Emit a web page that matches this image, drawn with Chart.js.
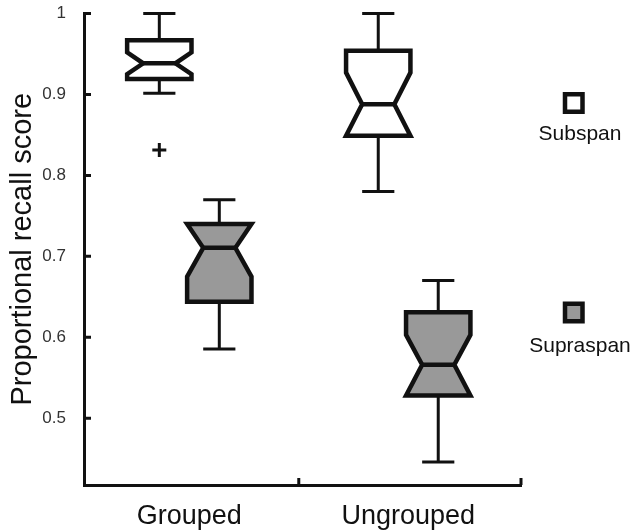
<!DOCTYPE html>
<html>
<head>
<meta charset="utf-8">
<script src="https://cdn.jsdelivr.net/npm/chart.js@4.4.0/dist/chart.umd.min.js"></script>
<style>
  body { margin: 0; background: #fff; }
  canvas { display: block; }
</style>
</head>
<body>
<canvas id="myChart" width="634" height="530"></canvas>
<script>
// categories along the x axis, series drawn side by side in each one
var categories = ['Grouped', 'Ungrouped'];
var categoryPos = [0.5, 1.5];
var seriesNames = ['Subspan', 'Supraspan'];
var seriesFill = ['#ffffff', '#999999'];

// box statistics, one value per category
var subspanWhiskerHi = [1.0, 1.0];
var subspanQ3 = [0.967, 0.954];
var subspanNotchHi = [0.952, 0.927];
var subspanMedian = [0.9385, 0.888];
var subspanNotchLo = [0.925, 0.849];
var subspanQ1 = [0.919, 0.849];
var subspanWhiskerLo = [0.9015, 0.780];

var supraspanWhiskerHi = [0.770, 0.670];
var supraspanQ3 = [0.740, 0.631];
var supraspanNotchHi = [0.746, 0.603];
var supraspanMedian = [0.7105, 0.566];
var supraspanNotchLo = [0.675, 0.528];
var supraspanQ1 = [0.644, 0.528];
var supraspanWhiskerLo = [0.5854, 0.446];

// outliers (+ markers)
var outlierCategory = [0];
var outlierSeries = [0];
var outlierValue = [0.8315];

var yTicks = [0.5, 0.6, 0.7, 0.8, 0.9, 1];

var stats = [
    { hi: subspanWhiskerHi, q3: subspanQ3, nHi: subspanNotchHi, med: subspanMedian, nLo: subspanNotchLo, q1: subspanQ1, lo: subspanWhiskerLo },
    { hi: supraspanWhiskerHi, q3: supraspanQ3, nHi: supraspanNotchHi, med: supraspanMedian, nLo: supraspanNotchLo, q1: supraspanQ1, lo: supraspanWhiskerLo }
];

var seriesOffset = [-0.137, 0.137];
var boxHalf = 0.147;
var notchInset = 0.25;
var ink = '#111';

function drawBox(ctx, xs, ys, cx, b, i, fill) {
    var left = xs.getPixelForValue(cx - boxHalf);
    var right = xs.getPixelForValue(cx + boxHalf);
    var mid = xs.getPixelForValue(cx);
    var capHalf = (right - left) / 4;
    var inset = (right - left) * notchInset;
    var yHi = ys.getPixelForValue(b.hi[i]);
    var yQ3 = ys.getPixelForValue(b.q3[i]);
    var yNHi = ys.getPixelForValue(Math.min(b.nHi[i], b.q3[i]));
    var yMed = ys.getPixelForValue(b.med[i]);
    var yNLo = ys.getPixelForValue(Math.max(b.nLo[i], b.q1[i]));
    var yQ1 = ys.getPixelForValue(b.q1[i]);
    var yLo = ys.getPixelForValue(b.lo[i]);

    // whiskers
    ctx.strokeStyle = ink;
    ctx.lineWidth = 3;
    ctx.beginPath();
    ctx.moveTo(mid, yQ3); ctx.lineTo(mid, yHi);
    ctx.moveTo(mid - capHalf, yHi); ctx.lineTo(mid + capHalf, yHi);
    ctx.moveTo(mid, yQ1); ctx.lineTo(mid, yLo);
    ctx.moveTo(mid - capHalf, yLo); ctx.lineTo(mid + capHalf, yLo);
    ctx.stroke();

    // notched box
    ctx.beginPath();
    ctx.moveTo(left, yQ3);
    ctx.lineTo(right, yQ3);
    ctx.lineTo(right, yNHi);
    ctx.lineTo(right - inset, yMed);
    ctx.lineTo(right, yNLo);
    ctx.lineTo(right, yQ1);
    ctx.lineTo(left, yQ1);
    ctx.lineTo(left, yNLo);
    ctx.lineTo(left + inset, yMed);
    ctx.lineTo(left, yNHi);
    ctx.closePath();
    ctx.fillStyle = fill;
    ctx.fill();
    ctx.lineWidth = 4.5;
    ctx.lineJoin = 'miter';
    ctx.stroke();

    ctx.beginPath();
    ctx.moveTo(left + inset, yMed);
    ctx.lineTo(right - inset, yMed);
    ctx.stroke();
}

var boxPlugin = {
    id: 'boxes',
    beforeDatasetsDraw: function (chart) {
        var ctx = chart.ctx;
        var xs = chart.scales.x, ys = chart.scales.y;
        var area = chart.chartArea;
        ctx.save();
        for (var s = 0; s < stats.length; s++) {
            for (var i = 0; i < categories.length; i++) {
                drawBox(ctx, xs, ys, categoryPos[i] + seriesOffset[s], stats[s], i, seriesFill[s]);
            }
        }
        // inward tick marks
        ctx.strokeStyle = ink;
        ctx.lineWidth = 3;
        ctx.beginPath();
        yTicks.forEach(function (v) {
            var y = ys.getPixelForValue(v);
            ctx.moveTo(area.left, y); ctx.lineTo(area.left + 7, y);
        });
        [1, xs.max].forEach(function (v) {
            var x = xs.getPixelForValue(v);
            ctx.moveTo(x, area.bottom); ctx.lineTo(x, area.bottom - 7);
        });
        ctx.stroke();

        // legend: marker above the name
        var legendY = [103, 312.5];
        var textY = [140, 352];
        for (var k = 0; k < seriesNames.length; k++) {
            ctx.fillStyle = seriesFill[k];
            ctx.lineWidth = 4.5;
            ctx.strokeStyle = ink;
            ctx.fillRect(565, legendY[k] - 8.75, 17.5, 17.5);
            ctx.strokeRect(565, legendY[k] - 8.75, 17.5, 17.5);
            ctx.fillStyle = ink;
            ctx.font = '21px "Liberation Sans", Arial, sans-serif';
            ctx.textAlign = 'center';
            ctx.textBaseline = 'alphabetic';
            ctx.fillText(seriesNames[k], 580, textY[k]);
        }
        ctx.restore();
    }
};

var outlierData = outlierValue.map(function (v, i) {
    return { x: categoryPos[outlierCategory[i]] + seriesOffset[outlierSeries[i]], y: v };
});

new Chart(document.querySelector('#myChart'), {
    type: 'scatter',
    data: {
        datasets: [{
            label: 'outliers',
            data: outlierData,
            pointStyle: 'cross',
            pointRadius: 7,
            borderColor: ink,
            borderWidth: 3
        }]
    },
    plugins: [boxPlugin],
    options: {
        responsive: false,
        animation: false,
        layout: { padding: { top: 13.5, right: 113, left: 0, bottom: 0 } },
        plugins: { legend: { display: false }, tooltip: { enabled: false } },
        scales: {
            x: {
                type: 'linear',
                min: 0.019,
                max: 2.015,
                afterBuildTicks: function (scale) {
                    scale.ticks = categoryPos.map(function (v) { return { value: v }; });
                },
                afterFit: function (scale) {
                    scale.height = 45;
                    scale.paddingLeft = 0;
                    scale.paddingRight = 0;
                },
                grid: { display: false },
                border: { display: true, color: ink, width: 3 },
                ticks: {
                    padding: 7,
                    color: ink,
                    font: { family: '"Liberation Sans", Arial, sans-serif', size: 27 },
                    maxRotation: 0,
                    callback: function (v, i) { return categories[i]; }
                }
            },
            y: {
                min: 0.4175,
                max: 1.0,
                afterBuildTicks: function (scale) {
                    scale.ticks = yTicks.map(function (v) { return { value: v }; });
                },
                afterFit: function (scale) {
                    scale.width = 84;
                    scale.paddingTop = 0;
                    scale.paddingBottom = 0;
                },
                grid: { display: false },
                border: { display: true, color: ink, width: 3 },
                ticks: {
                    padding: 10,
                    color: '#333',
                    font: { family: '"Liberation Sans", Arial, sans-serif', size: 17 },
                    callback: function (v) { return v === 1 ? '1' : v.toFixed(1); }
                },
                title: {
                    display: true,
                    text: 'Proportional recall score',
                    color: ink,
                    padding: { top: 6, bottom: 0 },
                    font: { family: '"Liberation Sans", Arial, sans-serif', size: 29 }
                }
            }
        }
    }
});
</script>
</body>
</html>
